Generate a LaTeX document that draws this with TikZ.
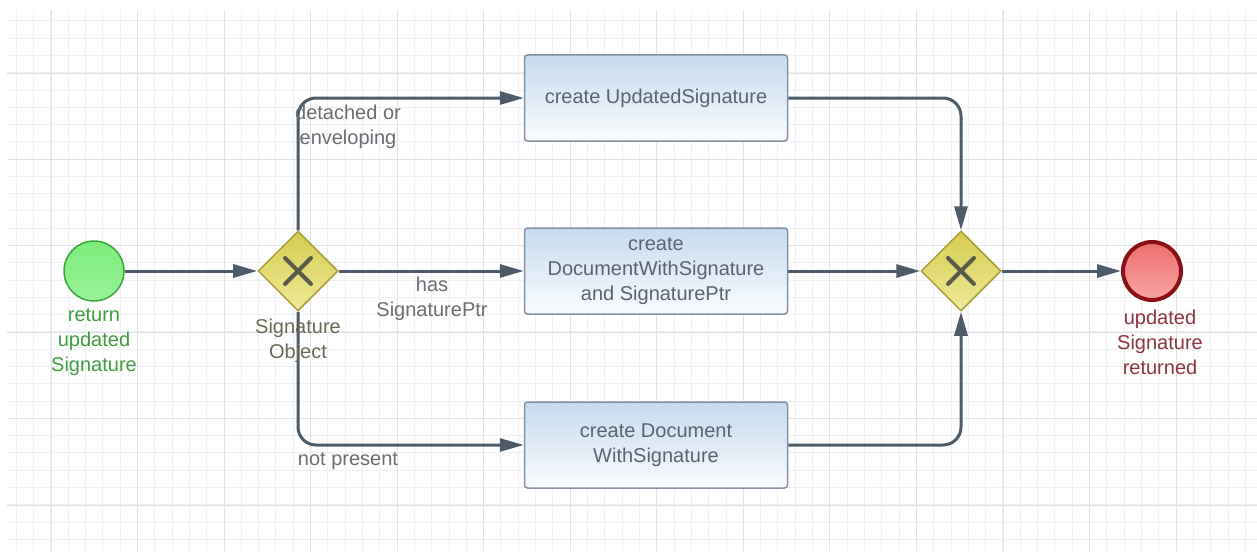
\documentclass[tikz,border=0pt]{standalone}
\usepackage{fontspec}
\setmainfont{Liberation Sans}
\usetikzlibrary{arrows.meta,shapes.geometric}

\definecolor{gridminor}{HTML}{EEF0F4}
\definecolor{gridmajor}{HTML}{DFE2E8}
\definecolor{flowcol}{HTML}{4D5B69}
\definecolor{tasktop}{HTML}{C6DAEE}
\definecolor{taskbot}{HTML}{FAFCFE}
\definecolor{taskdraw}{HTML}{8391A0}
\definecolor{tasktext}{HTML}{5A6470}
\definecolor{gwtop}{HTML}{D4CB50}
\definecolor{gwbot}{HTML}{EFEA98}
\definecolor{gwdraw}{HTML}{A89E3A}
\definecolor{gwmark}{HTML}{5A5A48}
\definecolor{starttop}{HTML}{7CEC7C}
\definecolor{startbot}{HTML}{98F298}
\definecolor{startdraw}{HTML}{3DA53D}
\definecolor{starttext}{HTML}{3E9E3E}
\definecolor{endtop}{HTML}{EE6E6E}
\definecolor{endbot}{HTML}{F8A4A4}
\definecolor{enddraw}{HTML}{8A1016}
\definecolor{endtext}{HTML}{8E3442}
\definecolor{labeltext}{HTML}{6A6E72}
\definecolor{gwtext}{HTML}{6A6A52}

\tikzset{
  txt/.style={font=\fontsize{20}{25}\selectfont, align=center, inner sep=0pt},
  startev/.style={circle, minimum size=60pt, inner sep=0pt, top color=starttop, bottom color=startbot, draw=startdraw, line width=1.5pt},
  endev/.style={circle, minimum size=58pt, inner sep=0pt, top color=endtop, bottom color=endbot, draw=enddraw, line width=4pt},
  gateway/.style={diamond, minimum width=80pt, minimum height=80pt, inner sep=0pt, top color=gwtop, bottom color=gwbot, draw=gwdraw, line width=1.5pt},
  task/.style={rectangle, rounded corners=3pt, minimum width=263pt, minimum height=86pt, top color=tasktop, bottom color=taskbot, draw=taskdraw, line width=1.5pt, txt, text=tasktext},
  flow/.style={draw=flowcol, line width=3pt, rounded corners=18pt, -{Triangle[length=24pt,width=13pt]}},
  flowlabel/.style={txt, text=labeltext},
  xmark/.style={draw=gwmark, line width=4pt, line cap=round}
}

\begin{document}
\begin{tikzpicture}[x=1pt,y=-1pt]
\useasboundingbox (0,0) rectangle (1257,551);
\fill[white] (0,0) rectangle (1257,551);

% background grid
\begin{scope}
  \clip (7,10) rectangle (1257,551);
  \foreach \i in {0,...,72} \draw[gridminor, line width=1pt] ({16.3+17.31*\i},10) -- ({16.3+17.31*\i},551);
  \foreach \i in {0,...,31} \draw[gridminor, line width=1pt] (7,{20.9+17.28*\i}) -- (1257,{20.9+17.28*\i});
  \foreach \i in {0,...,14} \draw[gridmajor, line width=1pt] ({51+86.55*\i},10) -- ({51+86.55*\i},551);
  \foreach \i in {0,...,5} \draw[gridmajor, line width=1pt] (7,{73+86.4*\i}) -- (1257,{73+86.4*\i});
\end{scope}

% events, gateways and tasks
\node[startev] (start) at (94,271) {};
\node[gateway] (split) at (298,271) {};
\node[task] (upd) at (656,98) {create UpdatedSignature};
\node[task] (docptr) at (656,271) {create\\DocumentWithSignature\\and SignaturePtr};
\node[task] (doc) at (656,445) {create Document\\WithSignature};
\node[gateway] (join) at (961,271) {};
\node[endev] (stop) at (1152,271) {};

% exclusive gateway markers
\foreach \g in {split,join} {
  \draw[xmark] ([shift={(-13,-13)}]\g.center) -- ([shift={(13,13)}]\g.center);
  \draw[xmark] ([shift={(-13,13)}]\g.center) -- ([shift={(13,-13)}]\g.center);
}

% sequence flows
\draw[flow] (start) -- (split);
\draw[flow] (split.north) |- (upd.west);
\draw[flow] (split.east) -- (docptr.west);
\draw[flow] (split.south) |- (doc.west);
\draw[flow] (upd.east) -| (join.north);
\draw[flow] (docptr.east) -- (join.west);
\draw[flow] (doc.east) -| (join.south);
\draw[flow] (join.east) -- (stop);

% labels
\node[txt, text=starttext] (startlbl) at (94,342) {return\\updated\\Signature};
\node[txt, text=gwtext] (splitlbl) at (298,341) {Signature\\Object};
\node[txt, text=endtext] (stoplbl) at (1160,342) {updated\\Signature\\returned};
\node[flowlabel] (lbl1) at (348,127) {detached or\\enveloping};
\node[flowlabel] (lbl2) at (432,299) {has\\SignaturePtr};
\node[flowlabel] (lbl3) at (348,461) {not present};
\end{tikzpicture}
\end{document}
